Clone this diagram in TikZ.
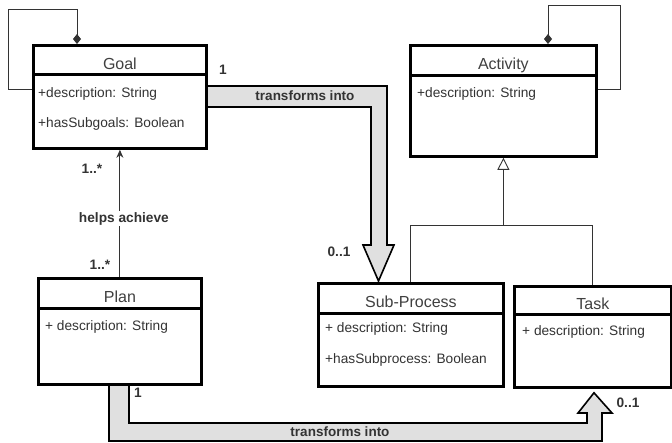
\documentclass[tikz,border=0pt]{standalone}
\usepackage{fontspec}
\setmainfont{Liberation Sans}
\usetikzlibrary{arrows.meta,calc}
\pgfdeclarelayer{background}
\pgfsetlayers{background,main}
\begin{document}
\begin{tikzpicture}[x=1pt,y=-1pt,
  box/.style={draw=black, line width=2.8pt, fill=white, anchor=north west, inner sep=0pt},
  ttl/.style={box, text=black!75, font=\fontsize{16}{19}\selectfont, text height=19pt, text depth=0pt},
  attr/.style={anchor=base west, inner sep=0pt, text=black!80, font=\fontsize{13.7}{16}\selectfont},
  lbl/.style={inner sep=1pt, text=black!80, font=\bfseries\fontsize{13.7}{16}\selectfont},
  wire/.style={draw=black!80, line width=0.9pt},
  comp/.style={wire, -{Diamond[length=10pt,width=8pt]}},
  gen/.style={wire, -{Triangle[open,length=12pt,width=12pt,fill=white]}},
  assoc/.style={wire, -{Stealth[length=8pt,width=7pt]}},
  fat/.style={draw=black, line width=1.6pt, fill=black!12, line join=miter},
]
\useasboundingbox (0,0) rectangle (672,442);

% ---- classes ----
\node[ttl, minimum width=173pt, minimum height=29pt] (goal) at (32,44) {Goal};
\node[box, minimum width=173pt, minimum height=74pt] (goalbody) at (32,73) {};
\node[attr] (goalA1) at (38,97) {+description: String};
\node[attr] (goalA2) at (38,127) {+hasSubgoals: Boolean};

\node[ttl, minimum width=186pt, minimum height=30pt] (activity) at (409,44) {Activity};
\node[box, minimum width=186pt, minimum height=81pt] (activitybody) at (409,74) {};
\node[attr] (activityA1) at (417,97) {+description: String};

\node[ttl, minimum width=163pt, minimum height=30pt] (plan) at (37,277) {Plan};
\node[box, minimum width=163pt, minimum height=76pt] (planbody) at (37,307) {};
\node[attr] (planA1) at (45,330) {+ description: String};

\node[ttl, minimum width=185pt, minimum height=30pt] (subp) at (317,282) {Sub-Process};
\node[box, minimum width=185pt, minimum height=73pt] (subpbody) at (317,312) {};
\node[attr] (subpA1) at (325,332) {+ description: String};
\node[attr] (subpA2) at (325,363) {+hasSubprocess: Boolean};

\node[ttl, minimum width=157pt, minimum height=28pt] (task) at (513,285) {Task};
\node[box, minimum width=157pt, minimum height=73pt] (taskbody) at (513,313) {};
\node[attr] (taskA1) at (522,335) {+ description: String};

% ---- self compositions ----
\draw[comp] ($(goalbody.north west)+(0,16)$) -- ++(-24,0) -- ++(0,-80)
  -| ($(goal.north west)+(45,0)$);
\draw[comp] ($(activitybody.north east)+(0,15)$) -- ++(23,0) -- ++(0,-84)
  -| ($(activity.north west)+(139,0)$);

% ---- generalization ----
\coordinate (branch) at ($(activitybody.south)+(0,68)$);
\draw[wire] (subp.north) |- (branch) -| (task.north);
\draw[gen] (branch) -- (activitybody.south);

% ---- association ----
\draw[assoc] (plan.north) -- node[lbl, fill=white, pos=0.46, xshift=4pt] (helps) {helps achieve} (goalbody.south);
\node[lbl] (mGoal) at (92,169) {1..*};
\node[lbl] (mPlan) at (100,265) {1..*};

% ---- transformation arrows ----
\begin{pgfonlayer}{background}
\draw[fat] ($(goalbody.north east)+(0,13)$) -- (387,86) -- (387,245) -- (394,245)
  -- ($(subp.north west)+(61.5,-1)$) -- (363,245) -- (371,245) -- (371,107)
  -- ($(goalbody.north east)+(0,34)$);
\draw[fat] ($(planbody.south west)+(72,0)$) -- (109,441) -- (602,441) -- (602,413) -- (612,413)
  -- ($(taskbody.south west)+(81,4)$) -- (578,413) -- (587,413) -- (587,423) -- (129,423)
  -- ($(planbody.south west)+(92,0)$);
\end{pgfonlayer}
\node[lbl, font=\bfseries\fontsize{13.5}{16}\selectfont] (tr1) at (305,96) {transforms into};
\node[lbl, font=\bfseries\fontsize{13.5}{16}\selectfont] (tr2) at (340,432) {transforms into};
\node[lbl] (m1a) at (223,70) {1};
\node[lbl] (m1b) at (339,252) {0..1};
\node[lbl] (m2a) at (138,393) {1};
\node[lbl] (m2b) at (628,403) {0..1};
\end{tikzpicture}
\end{document}
